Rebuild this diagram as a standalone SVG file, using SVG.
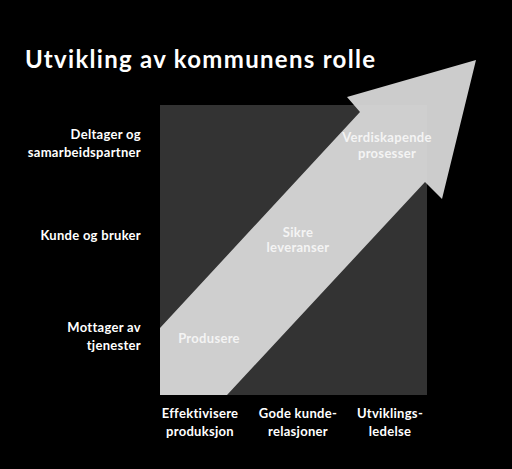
<svg xmlns="http://www.w3.org/2000/svg" width="512" height="469" viewBox="0 0 512 469">
<style>
text{font-family:Lato,"Open Sans","Liberation Sans",sans-serif;font-weight:bold;fill:#fff;letter-spacing:0.3px}
.t{font-size:24px;letter-spacing:0}
.l{font-size:13px;text-anchor:end}
.b{font-size:13px;text-anchor:middle}
.a{font-size:13px;text-anchor:middle;fill:#f4f4f4}
</style>
<rect width="512" height="469" fill="#000"/>
<text id="title" class="t" x="25" y="68" textLength="350" lengthAdjust="spacing">Utvikling av kommunens rolle</text>
<g id="matrix"><rect x="160" y="105" width="267" height="290" fill="#333"/></g>
<g id="arrow"><polygon points="160,328 360,112 347,97 476,60 442,199 425,182 227,395 160,395" fill="#dcdcdc" fill-opacity="0.93"/></g>
<g id="y-labels">
<g id="y1"><text class="l" x="141" y="139">Deltager og</text><text class="l" x="141" y="157">samarbeidspartner</text></g>
<g id="y2"><text class="l" x="141" y="240">Kunde og bruker</text></g>
<g id="y3"><text class="l" x="141" y="332">Mottager av</text><text class="l" x="141" y="350">tjenester</text></g>
</g>
<g id="x-labels">
<g id="x1"><text class="b" x="200" y="418">Effektivisere</text><text class="b" x="200" y="436">produksjon</text></g>
<g id="x2"><text class="b" x="298" y="418">Gode kunde-</text><text class="b" x="298" y="436">relasjoner</text></g>
<g id="x3"><text class="b" x="390" y="418">Utviklings-</text><text class="b" x="390" y="436">ledelse</text></g>
</g>
<g id="stages">
<g id="s1"><text class="a" x="209" y="343">Produsere</text></g>
<g id="s2"><text class="a" x="298" y="237">Sikre</text><text class="a" x="298" y="252">leveranser</text></g>
<g id="s3"><text class="a" x="387" y="142">Verdiskapende</text><text class="a" x="387" y="158">prosesser</text></g>
</g>
</svg>
